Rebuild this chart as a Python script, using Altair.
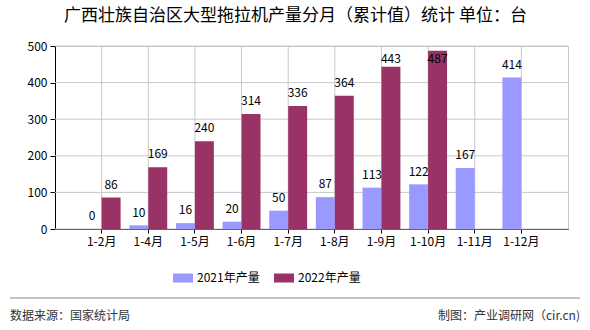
import altair as alt
import pandas as pd

categories = ["1-2月", "1-4月", "1-5月", "1-6月", "1-7月", "1-8月", "1-9月", "1-10月", "1-11月", "1-12月"]
values_2021 = [0, 10, 16, 20, 50, 87, 113, 122, 167, 414]
values_2022 = [86, 169, 240, 314, 336, 364, 443, 487, None, None]
series = ["2021年产量", "2022年产量"]
colors = ["#9999FF", "#993366"]
y_ticks = [0, 100, 200, 300, 400, 500]
title_text = "广西壮族自治区大型拖拉机产量分月（累计值）统计  单位：台"
source_text = "数据来源：国家统计局"
credit_text = "制图：产业调研网（cir.cn)"

rows = []
for c, a, b in zip(categories, values_2021, values_2022):
    rows.append({"cat": c, "series": series[0], "value": a})
    if b is not None:
        rows.append({"cat": c, "series": series[1], "value": b})
df = pd.DataFrame(rows)

font = "Noto Sans CJK SC"
grid_c = "#c8c8c8"

x_axis = alt.Axis(labelAngle=0, bandPosition=0.5, grid=False,
                  domainColor="#000", tickColor="#000", tickSize=4,
                  labelFont=font, labelFontSize=12, labelColor="#000", labelPadding=3,
                  labelOverlap=False, title=None)
y_axis = alt.Axis(values=y_ticks, grid=False, labelOverlap=False, title=None,
                  domainColor="#000", tickColor="#000", tickSize=5,
                  labelFont=font, labelFontSize=12, labelColor="#000", labelPadding=3)
x_scale = alt.Scale(paddingInner=0, paddingOuter=0.5)
y_scale = alt.Scale(domain=[0, 500], nice=False)

x = alt.X("cat:N", sort=categories, scale=x_scale, axis=x_axis)
xo = alt.XOffset("series:N", sort=series, scale=alt.Scale(paddingInner=0, paddingOuter=0.23))
y = alt.Y("value:Q", scale=y_scale, axis=y_axis)
color = alt.Color("series:N", sort=series, scale=alt.Scale(domain=series, range=colors),
                  legend=alt.Legend(title=None, orient="none", direction="horizontal",
                                    legendX=118, legendY=222,
                                    symbolType="M-1,-0.45L1,-0.45L1,0.45L-1,0.45Z",
                                    symbolSize=400, symbolStrokeWidth=0, symbolOpacity=1,
                                    labelFont=font, labelFontSize=12, labelColor="#000",
                                    labelOffset=4, columnPadding=14))

# grid lines drawn through the scales
hgrid = alt.Chart(pd.DataFrame({"tick": y_ticks})).mark_rule(color=grid_c, strokeWidth=1).encode(
    y=alt.Y("tick:Q", scale=y_scale, axis=y_axis))
vgrid = alt.Chart(pd.DataFrame({"cat": categories})).mark_rule(color=grid_c, strokeWidth=1).encode(
    x=alt.X("cat:N", sort=categories, scale=x_scale, axis=x_axis))

bars = alt.Chart(df).mark_bar(opacity=1).encode(x=x, xOffset=xo, y=y, color=color)

labels = alt.Chart(df).transform_calculate(
    ly="min(datum.value + 35, 464)"
).mark_text(font=font, fontSize=12, color="#000").encode(
    x=x, xOffset=xo, y=alt.Y("ly:Q", scale=y_scale, axis=y_axis), text="value:Q")

foot = pd.DataFrame({"a": [source_text], "b": [credit_text]})
rule = alt.Chart(foot).mark_rule(color="#888888", strokeWidth=1).encode(
    x=alt.value(-45), x2=alt.value(525), y=alt.value(252))
src = alt.Chart(foot).mark_text(font=font, fontSize=12, color="#333", align="left",
                                baseline="middle").encode(
    x=alt.value(-45), y=alt.value(270), text="a:N")
cred = alt.Chart(foot).mark_text(font=font, fontSize=12, color="#333", align="right",
                                 baseline="middle").encode(
    x=alt.value(525), y=alt.value(270), text="b:N")

chart = alt.layer(hgrid, vgrid, bars, labels, rule, src, cred).properties(
    width=513, height=183,
    autosize=alt.AutoSizeParams(type="none"),
    padding={"left": 55, "top": 46, "right": 22, "bottom": 101},
    background="white",
    title=alt.TitleParams(title_text, anchor="middle", dx=-16, offset=15,
                          font=font, fontSize=17, fontWeight="normal", color="#000"),
).configure_view(stroke=grid_c)

chart.save("out.html", embed_options={"renderer": "svg", "actions": False})
